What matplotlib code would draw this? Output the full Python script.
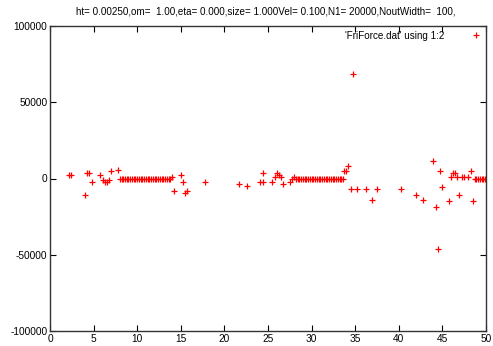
import numpy as np
import matplotlib
matplotlib.use("Agg")
import matplotlib.pyplot as plt

plt.rcParams['font.family'] = ['Liberation Sans', 'DejaVu Sans']
plt.rcParams['axes.unicode_minus'] = False

# scattered points
x_pts = [2.2, 2.4, 4.0, 4.2, 4.5, 4.8, 5.7, 6.1, 6.3, 6.5, 6.8, 7.0, 7.8,
         14.0, 14.2, 15.0, 15.3, 15.5, 15.7, 17.8,
         21.7, 22.6, 24.1, 24.4, 24.4, 25.5, 25.8, 26.0, 26.3, 26.5, 26.7,
         27.5, 27.8, 28.0,
         33.7, 33.9, 34.2, 34.5, 34.75, 35.2, 36.2, 36.9, 37.5, 40.3, 42.0,
         42.8, 43.9, 44.3, 44.5, 44.7, 45.0, 45.8, 46.0, 46.2, 46.4, 46.7,
         46.9, 47.2, 47.5, 47.9, 48.3, 48.5]
y_pts = [2500, 2500, -11000, 3900, 3900, -2600, 2000, -1300, -2600, -2600, -1300, 4600, 5900,
         1300, -8500, 2600, -2000, -9800, -7900, -2000,
         -3300, -4600, -2600, -2600, 3300, -2000, 700, 3300, 2600, 700, -3300,
         -2600, 0, 700,
         5200, 4600, 7900, -6600, 68800, -6600, -7200, -13800, -6600, -6600, -10500,
         -13800, 11800, -18400, -46000, 4600, -5900, -15000, 1300, 3300, 3300, 700,
         -10500, 700, 700, 700, 4600, -15000]

# flat stretches near zero
flat_x = list(np.arange(8.0, 13.8, 0.2)) + list(np.arange(28.2, 33.6, 0.2)) + list(np.arange(48.7, 50.0, 0.2))
flat_y = [0] * len(flat_x)

x_all = x_pts + flat_x
y_all = y_pts + flat_y

title = "ht= 0.00250,om=  1.00,eta= 0.000,size= 1.000Vel= 0.100,N1= 20000,NoutWidth=  100,"

fig = plt.figure(figsize=(4.93, 3.46), dpi=100)
ax = fig.add_axes([50/493, 15/346, 436/493, 305/346])
ax.plot(x_all, y_all, '+', color='red', markersize=4.5, markeredgewidth=0.9,
        label="'FriForce.dat' using 1:2")

ax.set_xlim(0, 50)
ax.set_ylim(-100000, 100000)
ax.set_xticks(range(0, 51, 5))
ax.set_yticks([-100000, -50000, 0, 50000, 100000])
ax.tick_params(direction='in', top=True, right=True, length=4, width=0.8,
               labelsize=7.3, pad=2)
for s in ax.spines.values():
    s.set_color('#333333')
    s.set_linewidth(1.0)

fig.text(266/493, 1 - 12/346, title, ha='center', va='center', fontsize=7.1)

leg = ax.legend(loc='upper right', frameon=False, fontsize=7.1, markerfirst=False,
                handletextpad=2.7, borderaxespad=0.2, borderpad=0.3, handlelength=1.0)

fig.savefig('out.png', dpi=100)
